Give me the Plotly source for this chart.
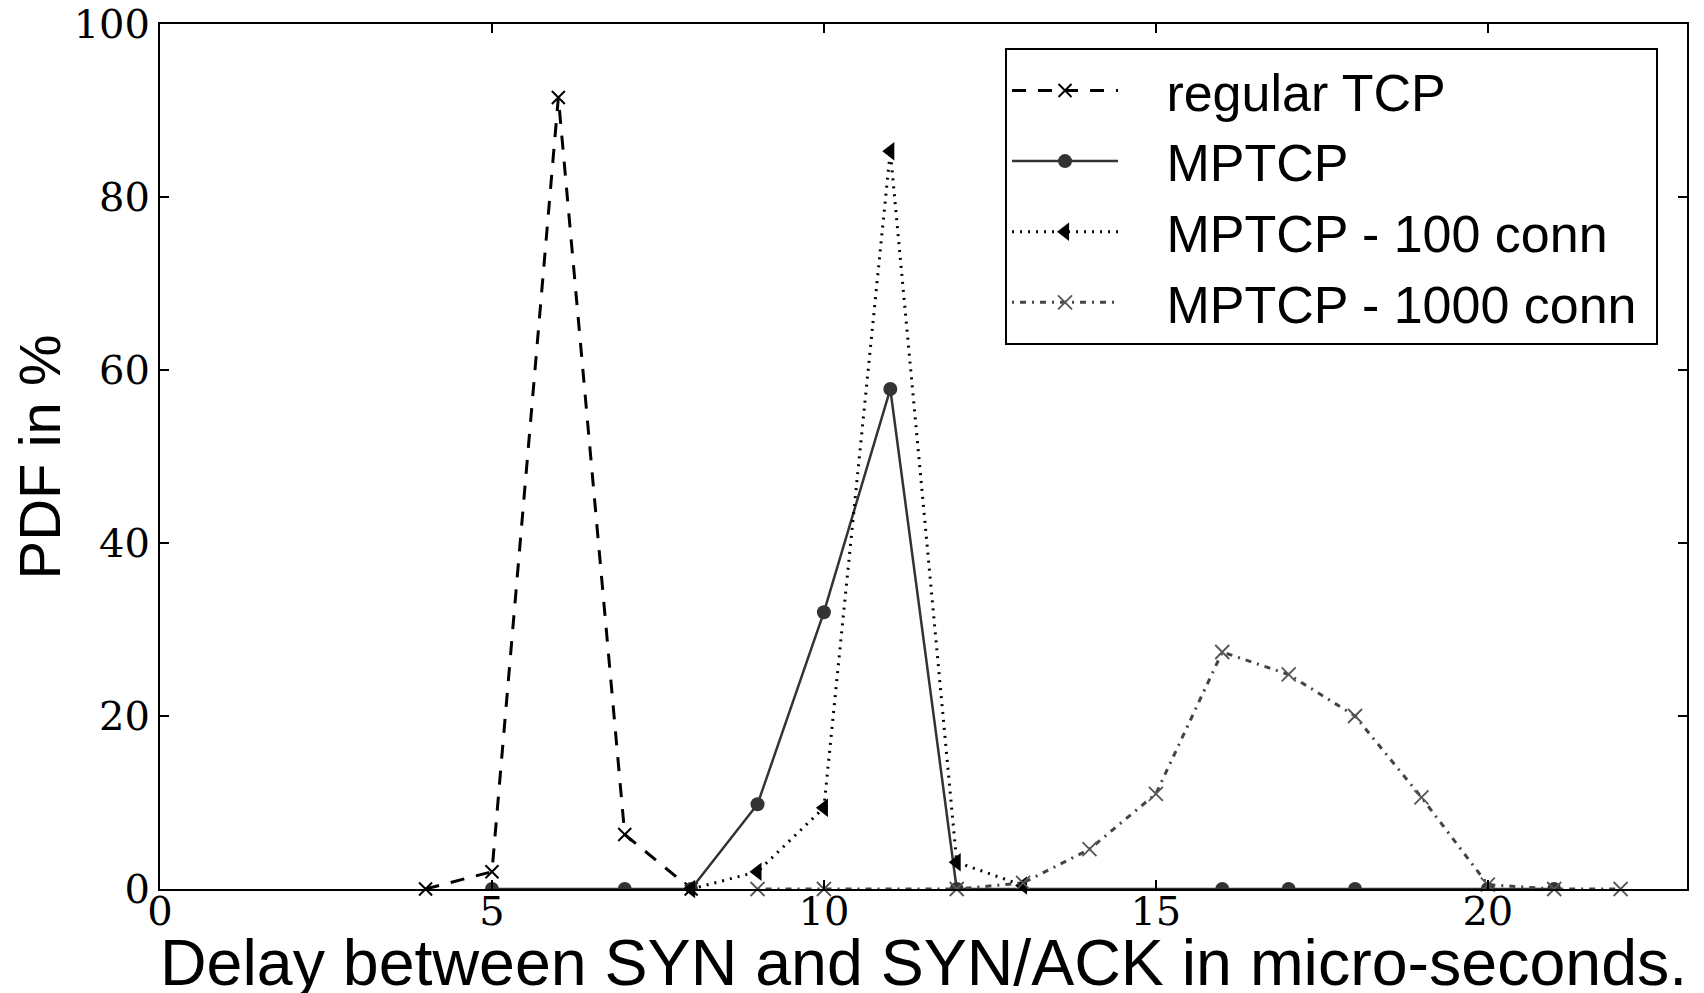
import plotly.graph_objects as go

# Data
tcp_x = [4, 5, 6, 7, 8]
tcp_y = [0, 2.0, 91.5, 6.3, 0]

mptcp_x = [5, 7, 8, 9, 10, 11, 12, 16, 17, 18, 20, 21]
mptcp_y = [0, 0, 0, 9.8, 32.0, 57.8, 0, 0, 0, 0, 0, 0]

c100_x = [8, 9, 10, 11, 12, 13]
c100_y = [0, 2.0, 9.4, 85.3, 3.1, 0.4]

c1000_x = [9, 10, 12, 13, 14, 15, 16, 17, 18, 19, 20, 21, 22]
c1000_y = [0, 0, 0, 0.7, 4.6, 11.0, 27.4, 24.8, 20.0, 10.6, 0.5, 0, 0]

names = ["regular TCP", "MPTCP", "MPTCP - 100 conn", "MPTCP - 1000 conn"]

x_ticks = [0, 5, 10, 15, 20]
y_ticks = [0, 20, 40, 60, 80, 100]

x_title = "Delay between SYN and SYN/ACK in micro-seconds."
y_title = "PDF in %"

GAP = "\u00a0\u00a0\u00a0"
TAIL = "\u00a0"

fig = go.Figure()
fig.add_trace(go.Scatter(
    x=tcp_x, y=tcp_y, name=GAP + names[0] + TAIL, mode="lines+markers",
    line=dict(color="black", width=3, dash="14px,12px"),
    marker=dict(symbol="x-thin", size=13, line=dict(color="black", width=2)),
    cliponaxis=False))
fig.add_trace(go.Scatter(
    x=mptcp_x, y=mptcp_y, name=GAP + names[1] + TAIL, mode="lines+markers",
    line=dict(color="#333333", width=2.5),
    marker=dict(symbol="circle", size=14, color="#333333"),
    cliponaxis=True))
fig.add_trace(go.Scatter(
    x=c100_x, y=c100_y, name=GAP + names[2] + TAIL, mode="lines+markers",
    line=dict(color="black", width=3, dash="2px,6px"),
    marker=dict(symbol="triangle-left", size=16, color="black"),
    cliponaxis=False))
fig.add_trace(go.Scatter(
    x=c1000_x, y=c1000_y, name=GAP + names[3] + TAIL, mode="lines+markers",
    line=dict(color="#444444", width=3, dash="2px,6px,6px,6px"),
    marker=dict(symbol="x-thin", size=14, line=dict(color="#555555", width=1.8)),
    cliponaxis=False))

axis_common = dict(
    showline=True, linecolor="black", linewidth=2, mirror="ticks",
    ticks="inside", ticklen=9, tickwidth=1.5, tickcolor="black",
    showgrid=False, zeroline=False, automargin=False,
    ticklabeloverflow="allow",
    tickfont=dict(family="DejaVu Serif", size=40, color="black"),
)

fig.update_xaxes(range=[0, 23], tickvals=x_ticks, ticktext=[str(v) for v in x_ticks],
                 ticklabelstandoff=-14, **axis_common)
fig.update_yaxes(range=[0, 100], tickvals=y_ticks, ticktext=[str(v) for v in y_ticks],
                 **axis_common)

fig.update_layout(
    width=1696, height=985,
    margin=dict(l=152, r=17, t=16, b=104),
    paper_bgcolor="white", plot_bgcolor="white",
    showlegend=True,
    legend=dict(x=0.5534, y=0.972, xanchor="left", yanchor="top",
                bgcolor="white", bordercolor="black", borderwidth=2,
                font=dict(family="Liberation Sans", size=52, color="black"),
                itemwidth=106),
    annotations=[
        dict(text=x_title, xref="paper", yref="paper", x=0.5, y=-0.085,
             xanchor="center", yanchor="middle", showarrow=False,
             font=dict(family="Liberation Sans", size=64.5, color="black")),
        dict(text=y_title, xref="paper", yref="paper", x=-0.0786, y=0.5,
             xanchor="center", yanchor="middle", showarrow=False, textangle=-90,
             font=dict(family="Liberation Sans", size=58, color="black")),
    ],
)

fig.write_html("out.html")
